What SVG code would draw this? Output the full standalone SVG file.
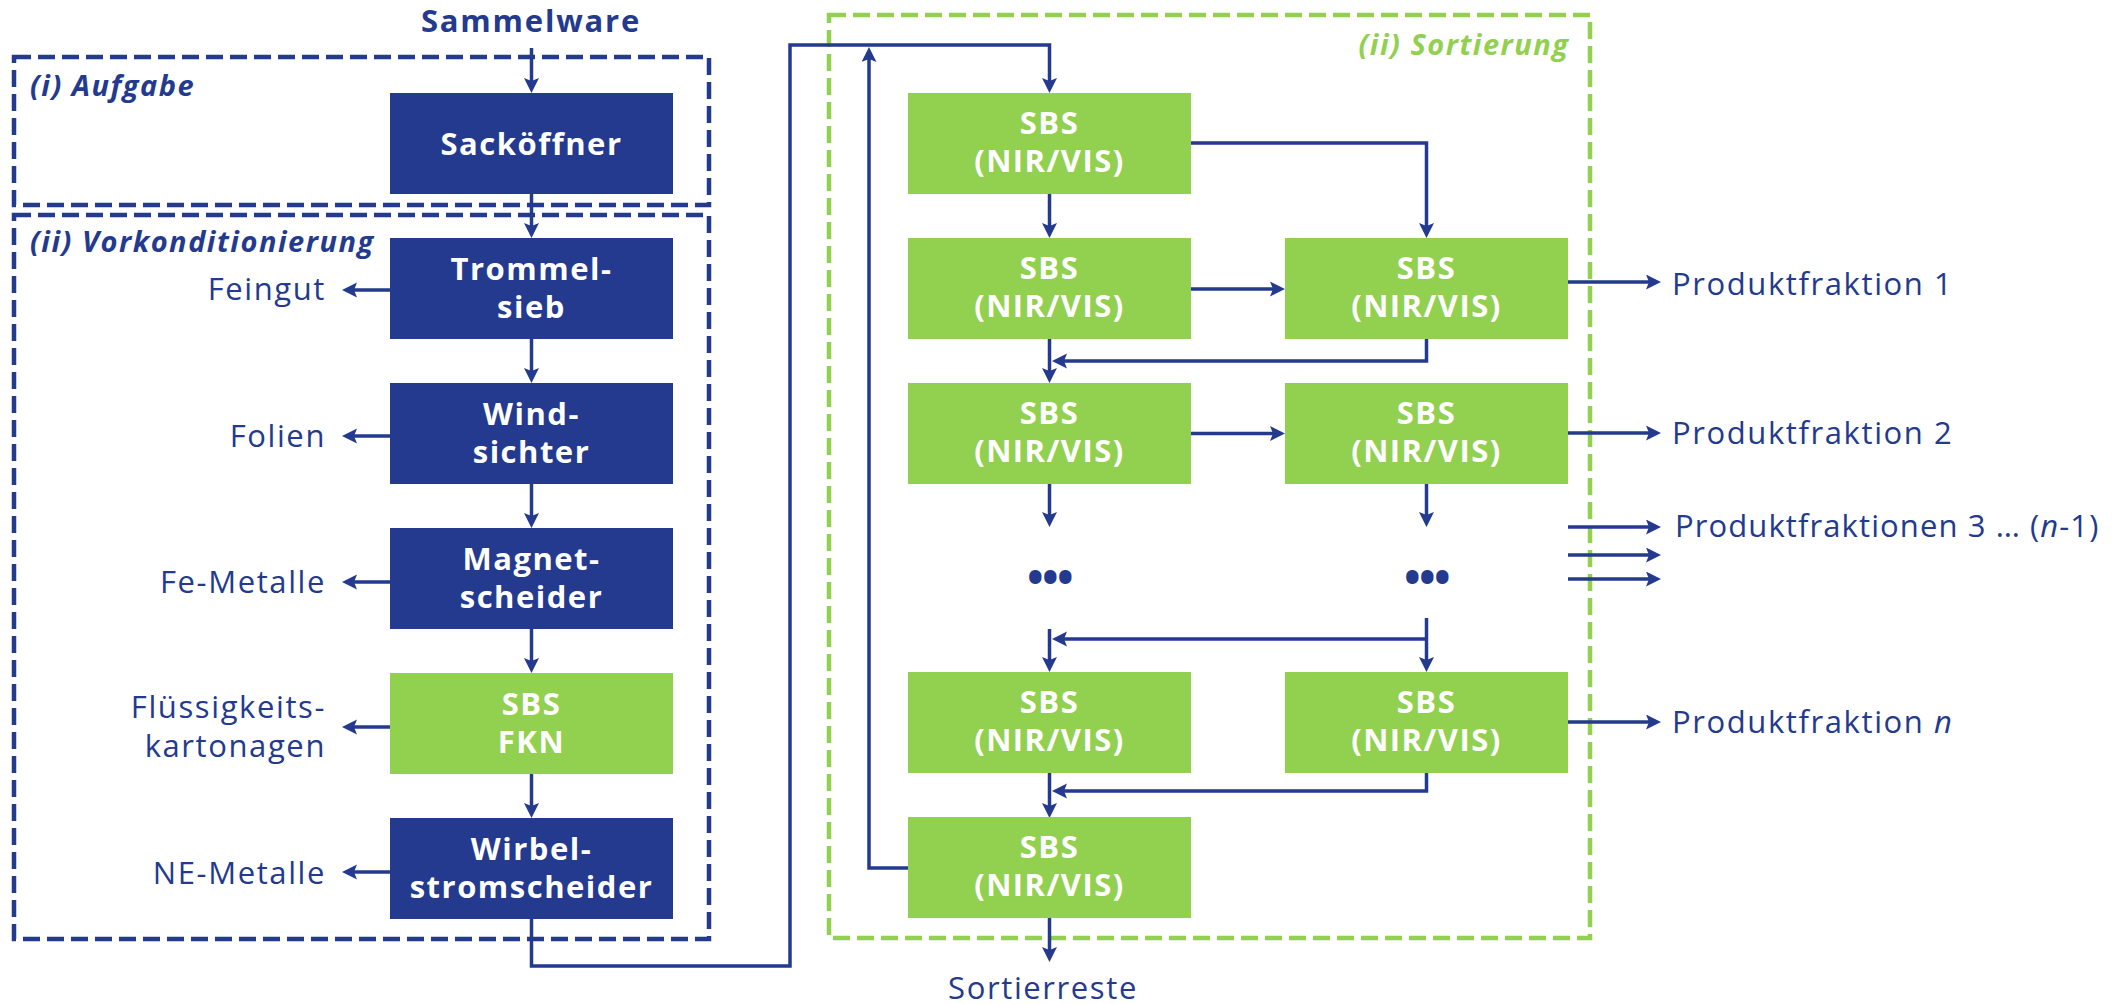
<svg xmlns="http://www.w3.org/2000/svg" width="2116" height="1004" viewBox="0 0 2116 1004">
<style>
  .bg{fill:#ffffff}
  .nb{fill:#233A8E}
  .ng{fill:#92D050}
  .bt{font-family:"Open Sans","Liberation Sans",sans-serif;font-weight:700;font-size:31px;letter-spacing:1.5px;fill:#ffffff;text-anchor:middle}
  .lbl{font-family:"Open Sans","Liberation Sans",sans-serif;font-weight:400;font-size:31px;letter-spacing:1.6px;fill:#233A8E}
  .r{text-anchor:end}
  .hd{font-family:"Open Sans","Liberation Sans",sans-serif;font-weight:700;font-style:italic;font-size:29px;letter-spacing:1.5px;fill:#233A8E}
  .dashb{fill:none;stroke:#233A8E;stroke-width:4.5;stroke-dasharray:17 7}
  .dashg{fill:none;stroke:#92D050;stroke-width:4.5;stroke-dasharray:17 7}
  .c{fill:none;stroke:#233A8E;stroke-width:3.5;marker-end:url(#ah)}
  .dots{font-family:"Open Sans","Liberation Sans",sans-serif;font-weight:700;font-size:44px;fill:#233A8E;text-anchor:middle;letter-spacing:-1.5px}
</style>
<defs>
  <marker id="ah" markerUnits="userSpaceOnUse" markerWidth="16" markerHeight="16" refX="5" refY="7.5" orient="auto">
    <path d="M0,0 L15,7.5 L0,15 L3,7.5 Z" fill="#233A8E"/>
  </marker>
</defs>
<rect class="bg" x="0" y="0" width="2116" height="1004"/>

<g id="areas">
  <rect class="dashb" x="14" y="57" width="695" height="148"/>
  <rect class="dashb" x="14" y="215" width="695" height="724"/>
  <rect class="dashg" x="829" y="15" width="761" height="923"/>
  <text class="hd" x="30" y="96">(i) Aufgabe</text>
  <text class="hd" x="30" y="252">(ii) Vorkonditionierung</text>
  <text class="hd" x="1569.5" y="55" style="fill:#92D050;text-anchor:end">(ii) Sortierung</text>
</g>

<g id="connectors">
  <path class="c" d="M531.5,48 V83"/>
  <path class="c" d="M531.5,194 V228"/>
  <path class="c" d="M531.5,339 V373"/>
  <path class="c" d="M531.5,484 V518"/>
  <path class="c" d="M531.5,629 V663"/>
  <path class="c" d="M531.5,774 V808"/>
  <path class="c" d="M390,290 H352"/>
  <path class="c" d="M390,436 H352"/>
  <path class="c" d="M390,582 H352"/>
  <path class="c" d="M390,727 H352"/>
  <path class="c" d="M390,872 H352"/>
  <path class="c" d="M531.5,919 V966 H790 V45 H1049.5 V83"/>
  <path class="c" d="M908,868 H869 V57"/>
  <path class="c" d="M1049.5,194 V228"/>
  <path class="c" d="M1191,143 H1426.5 V228"/>
  <path class="c" d="M1191,289 H1275"/>
  <path class="c" d="M1568,282 H1651"/>
  <path class="c" d="M1426.5,339 V361 H1062"/>
  <path class="c" d="M1049.5,339 V373"/>
  <path class="c" d="M1191,433.5 H1275"/>
  <path class="c" d="M1568,433 H1651"/>
  <path class="c" d="M1049.5,484 V517"/>
  <path class="c" d="M1426.5,484 V517"/>
  <path class="c" d="M1568,527 H1651"/>
  <path class="c" d="M1568,555 H1651"/>
  <path class="c" d="M1568,579 H1651"/>
  <path class="c" d="M1426.5,618 V662"/>
  <path class="c" d="M1426.5,639 H1062"/>
  <path class="c" d="M1049.5,629 V662"/>
  <path class="c" d="M1568,722 H1651"/>
  <path class="c" d="M1426.5,773 V791 H1062"/>
  <path class="c" d="M1049.5,773 V808"/>
  <path class="c" d="M1049.5,918 V952"/>
</g>

<g id="sammelware"><text class="hd" x="531" y="32" style="font-style:normal;font-size:31px;letter-spacing:1.8px;text-anchor:middle">Sammelware</text></g>

<g id="sackoeffner"><rect class="nb" x="390" y="93" width="283" height="101"/><text class="bt" x="531.5" y="155">Sacköffner</text></g>
<g id="trommelsieb"><rect class="nb" x="390" y="238" width="283" height="101"/><text class="bt" x="531.5" y="280">Trommel-</text><text class="bt" x="531.5" y="318">sieb</text></g>
<g id="windsichter"><rect class="nb" x="390" y="383" width="283" height="101"/><text class="bt" x="531.5" y="425">Wind-</text><text class="bt" x="531.5" y="463">sichter</text></g>
<g id="magnetscheider"><rect class="nb" x="390" y="528" width="283" height="101"/><text class="bt" x="531.5" y="570">Magnet-</text><text class="bt" x="531.5" y="608">scheider</text></g>
<g id="sbs-fkn"><rect class="ng" x="390" y="673" width="283" height="101"/><text class="bt" x="531.5" y="715">SBS</text><text class="bt" x="531.5" y="753">FKN</text></g>
<g id="wirbelstromscheider"><rect class="nb" x="390" y="818" width="283" height="101"/><text class="bt" x="531.5" y="860">Wirbel-</text><text class="bt" x="531.5" y="898">stromscheider</text></g>

<g id="out-left">
  <text class="lbl r" x="326" y="300">Feingut</text>
  <text class="lbl r" x="326" y="447">Folien</text>
  <text class="lbl r" x="326" y="593">Fe-Metalle</text>
  <text class="lbl r" x="326" y="718">Flüssigkeits-</text>
  <text class="lbl r" x="326" y="757">kartonagen</text>
  <text class="lbl r" x="326" y="884">NE-Metalle</text>
</g>

<g id="sbs-1"><rect class="ng" x="908" y="93" width="283" height="101"/><text class="bt" x="1049.5" y="134">SBS</text><text class="bt" x="1049.5" y="172">(NIR/VIS)</text></g>
<g id="sbs-2a"><rect class="ng" x="908" y="238" width="283" height="101"/><text class="bt" x="1049.5" y="279">SBS</text><text class="bt" x="1049.5" y="317">(NIR/VIS)</text></g>
<g id="sbs-2b"><rect class="ng" x="1285" y="238" width="283" height="101"/><text class="bt" x="1426.5" y="279">SBS</text><text class="bt" x="1426.5" y="317">(NIR/VIS)</text></g>
<g id="sbs-3a"><rect class="ng" x="908" y="383" width="283" height="101"/><text class="bt" x="1049.5" y="424">SBS</text><text class="bt" x="1049.5" y="462">(NIR/VIS)</text></g>
<g id="sbs-3b"><rect class="ng" x="1285" y="383" width="283" height="101"/><text class="bt" x="1426.5" y="424">SBS</text><text class="bt" x="1426.5" y="462">(NIR/VIS)</text></g>
<g id="dots-a"><text class="dots" x="1049.5" y="593">•••</text></g>
<g id="dots-b"><text class="dots" x="1426.5" y="593">•••</text></g>
<g id="sbs-na"><rect class="ng" x="908" y="672" width="283" height="101"/><text class="bt" x="1049.5" y="713">SBS</text><text class="bt" x="1049.5" y="751">(NIR/VIS)</text></g>
<g id="sbs-nb"><rect class="ng" x="1285" y="672" width="283" height="101"/><text class="bt" x="1426.5" y="713">SBS</text><text class="bt" x="1426.5" y="751">(NIR/VIS)</text></g>
<g id="sbs-last"><rect class="ng" x="908" y="817" width="283" height="101"/><text class="bt" x="1049.5" y="858">SBS</text><text class="bt" x="1049.5" y="896">(NIR/VIS)</text></g>

<g id="out-right">
  <text class="lbl" x="1672" y="295">Produktfraktion 1</text>
  <text class="lbl" x="1672" y="444">Produktfraktion 2</text>
  <text class="lbl" x="1675" y="537" style="letter-spacing:1.1px">Produktfraktionen 3 … (<tspan font-style="italic">n</tspan>-1)</text>
  <text class="lbl" x="1672" y="733">Produktfraktion <tspan font-style="italic">n</tspan></text>
  <text class="lbl" x="1043" y="999" style="text-anchor:middle">Sortierreste</text>
</g>
</svg>
